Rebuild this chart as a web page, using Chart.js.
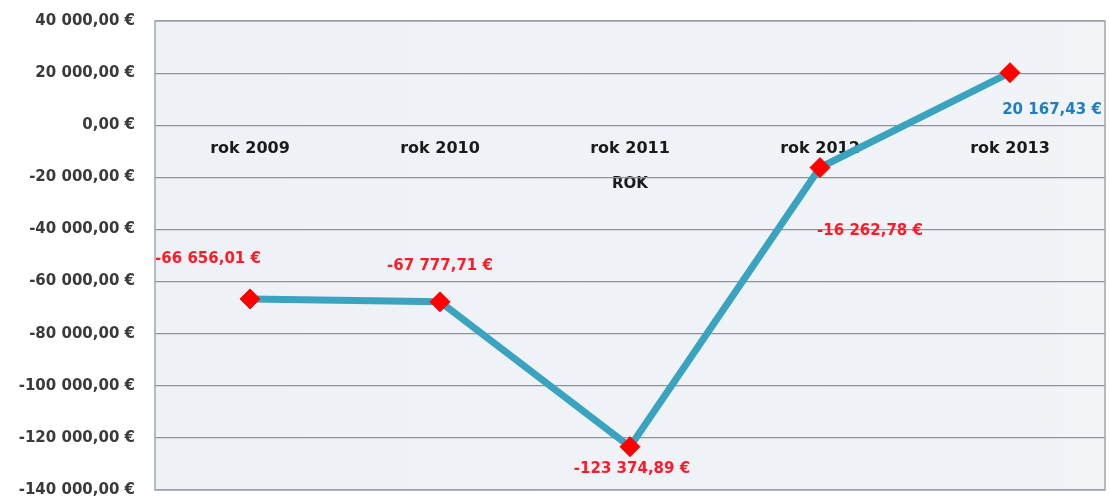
<!DOCTYPE html>
<html>
<head>
<meta charset="utf-8">
<script src="https://cdn.jsdelivr.net/npm/chart.js@4/dist/chart.umd.min.js"></script>
<style>
  html, body { margin: 0; padding: 0; background: #fff; }
  #wrap { width: 1110px; height: 498px; }
</style>
</head>
<body>
<div id="wrap"><canvas id="c" width="1110" height="498"></canvas></div>
<script>
const years = ['rok 2009', 'rok 2010', 'rok 2011', 'rok 2012', 'rok 2013'];
const balance = [-66656.01, -67777.71, -123374.89, -16262.78, 20167.43];
const yTicks = [40000, 20000, 0, -20000, -40000, -60000, -80000, -100000, -120000, -140000];
const axisTitle = 'ROK';

const fmtEur = (v) => {
  const neg = v < 0;
  const parts = Math.abs(v).toFixed(2).split('.');
  const whole = parts[0].replace(/\B(?=(\d{3})+(?!\d))/g, ' ');
  return (neg ? '-' : '') + whole + ',' + parts[1] + ' €';
};

// plot area fill + border
const plotBg = {
  id: 'plotBg',
  beforeDraw(chart) {
    const { ctx, chartArea: a } = chart;
    ctx.save();
    const g = ctx.createLinearGradient(a.left, 0, a.right, 0);
    g.addColorStop(0, '#eef1f5');
    g.addColorStop(1, '#f1f4f7');
    ctx.fillStyle = g;
    ctx.fillRect(a.left, a.top, a.right - a.left, a.bottom - a.top);
    ctx.restore();
  },
  afterDraw(chart) {
    const { ctx, chartArea: a } = chart;
    ctx.save();
    ctx.strokeStyle = '#a3a7ab';
    ctx.lineWidth = 1.5;
    ctx.strokeRect(a.left, a.top, a.right - a.left, a.bottom - a.top);
    ctx.restore();
  },
};

// value labels next to each marker
const labelOffsets = [[-42, -40], [0, -36], [2, 22], [50, 64], [42, 37]];
const valueLabels = {
  id: 'valueLabels',
  afterDatasetsDraw(chart) {
    const { ctx } = chart;
    const meta = chart.getDatasetMeta(0);
    ctx.save();
    ctx.font = 'bold 15px "DejaVu Sans"';
    ctx.textAlign = 'center';
    ctx.textBaseline = 'middle';
    meta.data.forEach((pt, i) => {
      const v = balance[i];
      const [dx, dy] = labelOffsets[i];
      ctx.fillStyle = v < 0 ? '#ff1a2a' : '#1f7fc0';
      ctx.fillText(fmtEur(v), pt.x + dx, pt.y + dy);
    });
    ctx.restore();
  },
};

const font = (size) => ({ family: '"DejaVu Sans"', size, weight: 'bold' });

new Chart(document.getElementById('c'), {
  type: 'line',
  data: {
    labels: years,
    datasets: [{
      data: balance,
      borderColor: '#3aa3bf',
      borderWidth: 7,
      pointStyle: 'rectRot',
      pointRadius: 10,
      pointBackgroundColor: '#ff0000',
      pointBorderColor: '#ff0000',
      pointBorderWidth: 1,
      tension: 0,
      clip: false,
    }],
  },
  options: {
    responsive: false,
    animation: false,
    layout: { autoPadding: false, padding: { top: 21, right: 5, bottom: 8, left: 0 } },
    plugins: { legend: { display: false }, tooltip: { enabled: false } },
    scales: {
      x: {
        position: { y: 0 },
        offset: true,
        grid: { display: false, drawTicks: false },
        border: { display: false },
        ticks: { color: '#1a1a1a', font: font(16), padding: 14 },
        title: { display: true, text: axisTitle, color: '#1a1a1a', font: font(15), padding: { top: 3 } },
        afterFit(scale) { scale.paddingLeft = 0; scale.paddingRight = 0; },
      },
      y: {
        min: -140000,
        max: 40000,
        afterFit(scale) { scale.width = 155; scale.paddingTop = 0; scale.paddingBottom = 0; },
        afterBuildTicks(scale) { scale.ticks = yTicks.map((value) => ({ value })); },
        grid: { color: '#8f9397', lineWidth: 1.2, drawTicks: false },
        border: { display: false },
        ticks: {
          color: '#3a3a3a',
          font: font(15),
          padding: 20,
          callback: (v) => fmtEur(v),
        },
      },
    },
  },
  plugins: [plotBg, valueLabels],
});
</script>
</body>
</html>
